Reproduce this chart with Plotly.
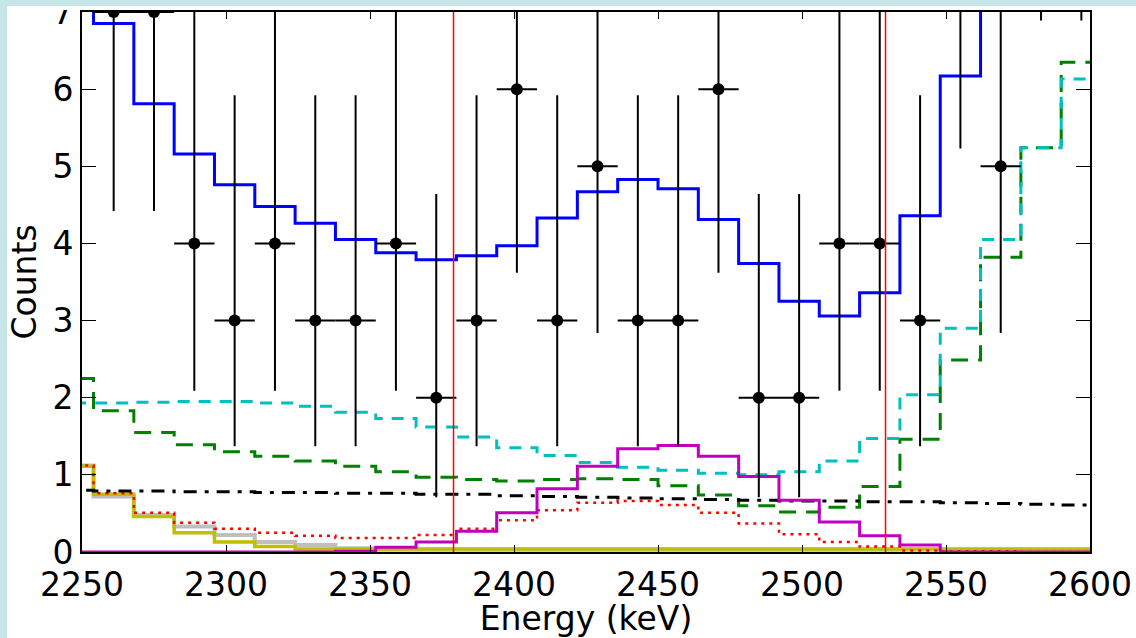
import plotly.graph_objects as go

# ---------------- data ----------------
bin_edges = [2240, 2254, 2268, 2282, 2296, 2310, 2324, 2338, 2352, 2366, 2380, 2394, 2408,
             2422, 2436, 2450, 2464, 2478, 2492, 2506, 2520, 2534, 2548, 2562, 2576, 2590, 2604]

total_model = [7.6, 6.85, 5.81, 5.16, 4.76, 4.48, 4.26, 4.05, 3.88, 3.79, 3.84, 3.97, 4.33,
               4.67, 4.83, 4.71, 4.31, 3.74, 3.25, 3.06, 3.36, 4.36, 6.17, 7.9, 9.6, 11.0]
bkg_cyan = [1.93, 1.93, 1.94, 1.95, 1.95, 1.93, 1.89, 1.81, 1.73, 1.62, 1.49, 1.35, 1.25,
            1.16, 1.10, 1.06, 1.02, 1.00, 1.04, 1.18, 1.47, 2.04, 2.90, 4.05, 5.24, 6.13]
bkg_green = [2.25, 1.83, 1.55, 1.39, 1.30, 1.24, 1.18, 1.11, 1.04, 0.97, 0.94, 0.92, 0.94,
             0.95, 0.94, 0.86, 0.74, 0.60, 0.52, 0.58, 0.85, 1.46, 2.49, 3.82, 5.24, 6.35]
bkg_red = [1.12, 0.76, 0.51, 0.38, 0.30, 0.25, 0.21, 0.18, 0.18, 0.22, 0.30, 0.41, 0.54,
           0.64, 0.66, 0.61, 0.51, 0.37, 0.23, 0.13, 0.07, 0.02, 0.01, 0.01, 0.0, 0.0]
signal = [0.0, 0.0, 0.0, 0.0, 0.0, 0.0, 0.0, 0.01, 0.06, 0.13, 0.27, 0.51, 0.82,
          1.11, 1.34, 1.38, 1.24, 0.98, 0.67, 0.39, 0.21, 0.09, 0.0, 0.0, 0.0, 0.0]
bkg_yellow = [1.11, 0.75, 0.46, 0.25, 0.13, 0.07, 0.04, 0.04, 0.04, 0.04, 0.04, 0.04, 0.04,
              0.04, 0.04, 0.04, 0.04, 0.04, 0.04, 0.04, 0.04, 0.04, 0.04, 0.04, 0.04, 0.04]
bkg_gray = [1.12, 0.72, 0.48, 0.33, 0.22, 0.13, 0.09, 0.05, 0.03, 0.03, 0.03, 0.03, 0.03,
            0.03, 0.03, 0.03, 0.03, 0.03, 0.03, 0.03, 0.03, 0.03, 0.03, 0.03, 0.03, 0.03]
bkg_flat = [0.80, 0.79, 0.79, 0.78, 0.78, 0.77, 0.77, 0.76, 0.76, 0.75, 0.75, 0.73, 0.72,
            0.71, 0.70, 0.69, 0.68, 0.67, 0.66, 0.66, 0.65, 0.65, 0.64, 0.63, 0.62, 0.61]

data_energy = [2261, 2275, 2289, 2303, 2317, 2331, 2345, 2359, 2373, 2387, 2401, 2415, 2429,
               2443, 2457, 2471, 2485, 2499, 2513, 2527, 2541, 2555, 2569, 2583, 2597]
data_counts = [7, 7, 4, 3, 4, 3, 3, 4, 2, 3, 6, 3, 5, 3, 3, 6, 2, 2, 4, 4, 3, 8, 5, 10, 10]
data_low = [4.42, 4.42, 2.09, 1.37, 2.09, 1.37, 1.37, 2.09, 0.71, 1.37, 3.62, 1.37, 2.84,
            1.37, 1.37, 3.62, 0.71, 0.71, 2.09, 2.09, 1.37, 5.23, 2.84, 6.89, 6.89]
data_high = [10.77, 10.77, 7.16, 5.92, 7.16, 5.92, 5.92, 7.16, 4.64, 5.92, 9.58, 5.92, 8.38,
             5.92, 5.92, 9.58, 4.64, 4.64, 7.16, 7.16, 5.92, 11.95, 8.38, 14.27, 14.27]
data_half_width = 7

roi_lines = [2379, 2529]

x_ticks = [2250, 2300, 2350, 2400, 2450, 2500, 2550, 2600]
y_ticks = [0, 1, 2, 3, 4, 5, 6, 7]

# ---------------- figure ----------------
W, H = 1136, 638
ML, MR, MT, MB = 82, 46, 12, 86
PW, PH = W - ML - MR, H - MT - MB

fig = go.Figure()


def step(vals, color, width, dash="solid"):
    fig.add_trace(go.Scatter(
        x=bin_edges, y=vals + [vals[-1]], mode="lines", line_shape="hv",
        line=dict(color=color, width=width, dash=dash), hoverinfo="skip", showlegend=False))


step(bkg_gray, "#bfbfbf", 4)
step(bkg_yellow, "#bfbf00", 3.5)
step(bkg_red, "#ff0000", 2.5, "3px,5px")
step(bkg_green, "#008000", 3, "17px,10px")
step(bkg_cyan, "#00bfbf", 3, "12px,9px")
step(bkg_flat, "#000000", 3, "13px,8px,4px,8px")
step(signal, "#bf00bf", 3)
step(total_model, "#0000ff", 3)

fig.add_trace(go.Scatter(
    x=data_energy, y=data_counts, mode="markers",
    marker=dict(color="black", size=12),
    error_y=dict(type="data", symmetric=False,
                 array=[h - c for h, c in zip(data_high, data_counts)],
                 arrayminus=[c - l for c, l in zip(data_counts, data_low)],
                 color="black", thickness=2, width=0),
    error_x=dict(type="constant", value=data_half_width, color="black", thickness=2, width=0),
    hoverinfo="skip", showlegend=False))

for xr in roi_lines:
    fig.add_shape(type="line", xref="x", yref="paper", x0=xr, x1=xr, y0=0, y1=1,
                  line=dict(color="#ff0000", width=1.5), layer="above")

# background frame strips (light cyan) in the figure corners
cyan_bg = "rgb(198,230,233)"
fig.add_shape(type="rect", xref="paper", yref="paper",
              x0=-ML / PW, x1=(7 - ML) / PW, y0=-MB / PH - 0.01, y1=1 + MT / PH + 0.01,
              fillcolor=cyan_bg, line_width=0, layer="above")
fig.add_shape(type="rect", xref="paper", yref="paper",
              x0=-ML / PW - 0.01, x1=1 + MR / PW + 0.01, y0=1 + (MT - 6) / PH, y1=1 + MT / PH + 0.01,
              fillcolor=cyan_bg, line_width=0, layer="above")
fig.add_shape(type="rect", xref="paper", yref="paper",
              x0=(7 - ML) / PW, x1=-0.005, y0=1 + (MT - 10) / PH, y1=1 + (MT - 6) / PH,
              fillcolor="white", line_width=0, layer="above")

font = dict(family="DejaVu Sans", size=33, color="black")

fig.update_layout(
    width=W, height=H, margin=dict(l=ML, r=MR, t=MT, b=MB, pad=0),
    paper_bgcolor="white", plot_bgcolor="white", font=font,
    xaxis=dict(range=[2250, 2600], tickvals=x_ticks, ticktext=[str(v) for v in x_ticks],
               ticks="inside", ticklen=7, tickwidth=1, tickcolor="black",
               showline=True, linecolor="black", linewidth=2, mirror="ticks",
               showgrid=False, zeroline=False, tickfont=font, automargin=False,
               ticklabelstandoff=2, ticklabeloverflow="allow",
               title=dict(text="Energy (keV)", font=font, standoff=0)),
    yaxis=dict(range=[0, 7], tickvals=y_ticks, ticktext=[str(v) for v in y_ticks],
               ticks="inside", ticklen=14, tickwidth=1, tickcolor="black",
               showline=True, linecolor="black", linewidth=2, mirror="ticks",
               showgrid=False, zeroline=False, tickfont=font, automargin=False,
               ticklabeloverflow="allow",
               title=dict(text="Counts", font=font, standoff=6)),
)

fig.write_html("out.html")
